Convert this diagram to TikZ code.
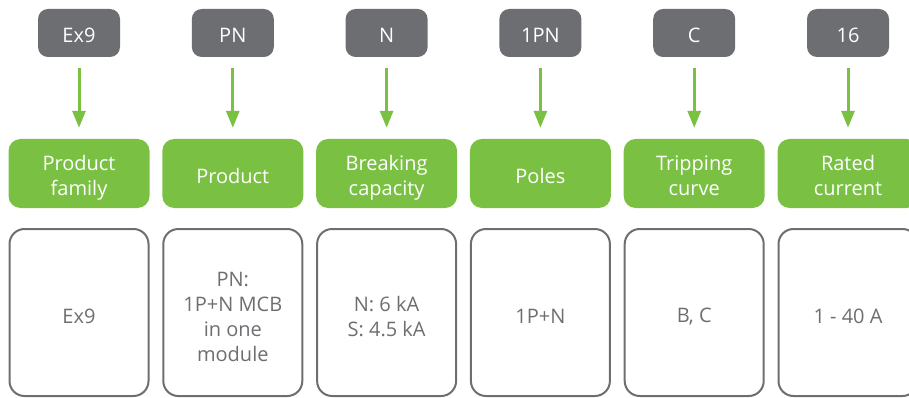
\documentclass[tikz,border=0pt]{standalone}
\usepackage{fontspec}
\setmainfont{Open Sans}
\usetikzlibrary{arrows.meta}
\definecolor{cgray}{HTML}{6D6E71}
\definecolor{cgreen}{HTML}{7AC143}
\tikzset{
  txt/.style={inner sep=0pt, align=center, font=\fontsize{20}{25}\selectfont},
  codebox/.style={fill=cgray, rounded corners=10pt, minimum width=82pt, minimum height=48pt, inner sep=0pt},
  catbox/.style={fill=cgreen, rounded corners=12pt, minimum width=141pt, minimum height=69pt, inner sep=0pt},
  valbox/.style={draw=cgray, line width=2pt, rounded corners=15pt, minimum width=139pt, minimum height=167pt, inner sep=0pt},
  codetxt/.style={txt, text=white, yshift=-2.5pt},
  cattxt/.style={txt, text=white, yshift=-4.5pt},
  valtxt/.style={txt, text=cgray, yshift=-4pt},
  flowarrow/.style={draw=cgreen, line width=3pt, -{Triangle[width=13pt,length=17pt]}, shorten <=11pt, shorten >=11pt},
}
\begin{document}
\begin{tikzpicture}[x=1pt,y=1pt]
\useasboundingbox (0,0) rectangle (909,-398);
\clip (0,0) rectangle (909,-398);
% code boxes
\node[codebox, label={[codetxt]center:Ex9}] (t1) at (79,-33) {};
\node[codebox, label={[codetxt]center:PN}] (t2) at (232.8,-33) {};
\node[codebox, label={[codetxt]center:N}] (t3) at (386.6,-33) {};
\node[codebox, label={[codetxt]center:1PN}] (t4) at (540.4,-33) {};
\node[codebox, label={[codetxt]center:C}] (t5) at (694.2,-33) {};
\node[codebox, label={[codetxt]center:16}] (t6) at (848,-33) {};
% category boxes
\node[catbox, label={[cattxt]center:{Product\\family}}] (g1) at (79,-173.5) {};
\node[catbox, label={[cattxt]center:{Product\vphantom{y}}}] (g2) at (232.8,-173.5) {};
\node[catbox, label={[cattxt]center:{Breaking\\capacity}}] (g3) at (386.6,-173.5) {};
\node[catbox, label={[cattxt]center:{Poles\vphantom{y}}}] (g4) at (540.4,-173.5) {};
\node[catbox, label={[cattxt]center:{Tripping\\curve\vphantom{y}}}] (g5) at (694.2,-173.5) {};
\node[catbox, label={[cattxt]center:{Rated\\current\vphantom{y}}}] (g6) at (848,-173.5) {};
% value boxes
\node[valbox, label={[valtxt]center:Ex9}] (v1) at (79,-312.5) {};
\node[valbox, label={[valtxt]center:{PN:\\1P+N MCB\\in one\\module}}] (v2) at (232.8,-312.5) {};
\node[valbox, label={[valtxt]center:{N: 6 kA\\S: 4.5 kA}}] (v3) at (386.6,-312.5) {};
\node[valbox, label={[valtxt]center:1P+N}] (v4) at (540.4,-312.5) {};
\node[valbox, label={[valtxt]center:{B, C}}] (v5) at (694.2,-312.5) {};
\node[valbox, label={[valtxt]center:{1 - 40 A}}] (v6) at (848,-312.5) {};
\foreach \i in {1,...,6} {
  \draw[flowarrow] (t\i) -- (g\i);
}
\end{tikzpicture}
\end{document}
